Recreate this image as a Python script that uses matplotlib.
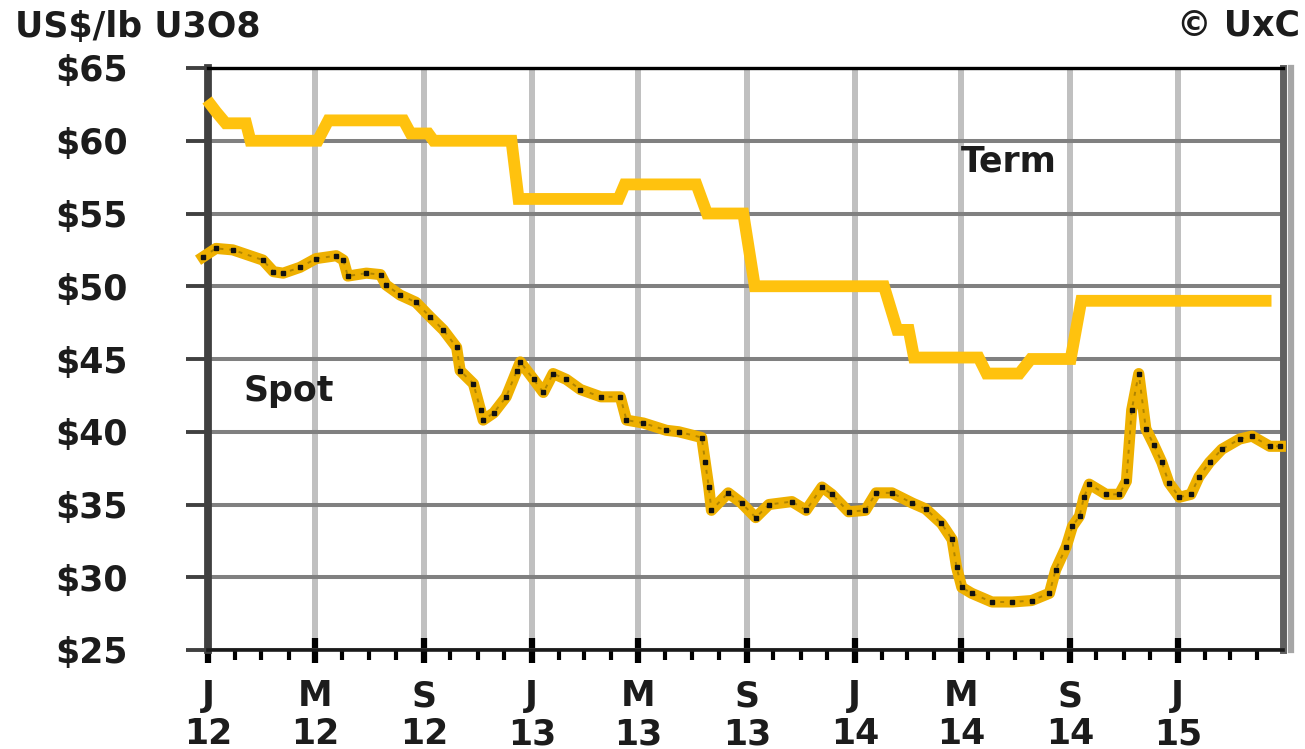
import matplotlib
matplotlib.use("Agg")
import matplotlib.pyplot as plt
import matplotlib.dates as mdates
from matplotlib.ticker import FuncFormatter, MultipleLocator
from matplotlib.lines import Line2D
import pandas as pd

# --- data (US$/lb U3O8) ---
term_dates = ["2011-12-31", "2012-01-10", "2012-01-21", "2012-02-13", "2012-02-18",
              "2012-05-04", "2012-05-16", "2012-08-09", "2012-08-17", "2012-09-06",
              "2012-09-12", "2012-12-09", "2012-12-17", "2013-04-09", "2013-04-16",
              "2013-07-06", "2013-07-18", "2013-08-28", "2013-09-10", "2014-02-03",
              "2014-02-18", "2014-03-03", "2014-03-09", "2014-05-21", "2014-05-30",
              "2014-07-06", "2014-07-19", "2014-09-02", "2014-09-14", "2015-04-17"]
term_prices = [62.8, 62.0, 61.2, 61.2, 60.0,
               60.0, 61.4, 61.4, 60.5, 60.5,
               60.0, 60.0, 56.0, 56.0, 57.0,
               57.0, 55.0, 55.0, 50.0, 50.0,
               47.0, 47.0, 45.1, 45.1, 44.0,
               44.0, 45.0, 45.0, 49.0, 49.0]

spot_dates = ["2011-12-26", "2012-01-10", "2012-01-29", "2012-03-03", "2012-03-15",
              "2012-03-26", "2012-04-14", "2012-05-02", "2012-05-25", "2012-06-02",
              "2012-06-07", "2012-06-28", "2012-07-14", "2012-07-20", "2012-08-05",
              "2012-08-23", "2012-09-08", "2012-09-23", "2012-10-08", "2012-10-12",
              "2012-10-27", "2012-11-04", "2012-11-07", "2012-11-19", "2012-12-03",
              "2012-12-15", "2012-12-19", "2013-01-03", "2013-01-14", "2013-01-25",
              "2013-02-09", "2013-02-25", "2013-03-20", "2013-04-11", "2013-04-18",
              "2013-05-07", "2013-06-02", "2013-06-16", "2013-07-12", "2013-07-16",
              "2013-07-20", "2013-07-23", "2013-08-11", "2013-08-26", "2013-09-11",
              "2013-09-26", "2013-10-22", "2013-11-07", "2013-11-25", "2013-12-06",
              "2013-12-25", "2014-01-13", "2014-01-25", "2014-02-12", "2014-03-07",
              "2014-03-22", "2014-04-09", "2014-04-21", "2014-04-26", "2014-05-02",
              "2014-05-13", "2014-06-05", "2014-06-28", "2014-07-20", "2014-08-09",
              "2014-08-16", "2014-08-28", "2014-09-04", "2014-09-12", "2014-09-17",
              "2014-09-23", "2014-10-12", "2014-10-27", "2014-11-04", "2014-11-10",
              "2014-11-18", "2014-11-26", "2014-12-05", "2014-12-14", "2014-12-22",
              "2015-01-03", "2015-01-16", "2015-01-25", "2015-02-06", "2015-02-20",
              "2015-03-12", "2015-03-26", "2015-04-15", "2015-04-27"]
spot_prices = [52.0, 52.6, 52.5, 51.8, 51.0,
               50.9, 51.3, 51.9, 52.1, 51.8,
               50.7, 50.9, 50.8, 50.1, 49.4,
               48.9, 47.9, 47.0, 45.8, 44.2,
               43.3, 41.5, 40.8, 41.3, 42.4,
               44.2, 44.8, 43.6, 42.7, 44.0,
               43.6, 42.9, 42.4, 42.4, 40.8,
               40.6, 40.1, 40.0, 39.6, 37.9,
               36.2, 34.6, 35.8, 35.1, 34.1,
               35.0, 35.2, 34.6, 36.2, 35.7,
               34.5, 34.6, 35.8, 35.8, 35.1,
               34.7, 33.7, 32.6, 30.7, 29.3,
               28.9, 28.3, 28.3, 28.4, 28.9,
               30.5, 32.1, 33.5, 34.2, 35.5,
               36.4, 35.7, 35.7, 36.6, 41.5,
               44.0, 40.2, 39.1, 37.9, 36.5,
               35.5, 35.7, 36.9, 37.9, 38.8,
               39.5, 39.7, 39.0, 39.0]

y_ticks = [25, 30, 35, 40, 45, 50, 55, 60, 65]

term = pd.Series(term_prices, index=pd.to_datetime(term_dates))
spot = pd.Series(spot_prices, index=pd.to_datetime(spot_dates))

TXT = dict(family="DejaVu Sans", weight="bold", color="#1c1c1c")

fig = plt.figure(figsize=(13.05, 7.49), dpi=100)
ax = fig.add_axes([208 / 1305, 1 - 650 / 749, 1075 / 1305, 582 / 749])

ax.set_ylim(25, 65)
ax.set_xlim(pd.Timestamp("2012-01-01"), pd.Timestamp("2015-04-30"))

# grid
ax.yaxis.set_major_locator(MultipleLocator(5))
ax.xaxis.set_major_locator(mdates.MonthLocator(bymonth=[1, 5, 9]))
ax.xaxis.set_minor_locator(mdates.MonthLocator())
ax.grid(axis="y", color="#808080", lw=2.9, zorder=0)
ax.grid(axis="x", which="major", color="#c0c0c0", lw=4.3, zorder=0)
ax.set_axisbelow(True)

# lines
ax.plot(term.index, term.values, color="#ffc20e", lw=8.5, solid_capstyle="butt",
        solid_joinstyle="miter", zorder=3, clip_on=False)
ax.plot(spot.index, spot.values, color="#eeb000", lw=8, solid_joinstyle="round",
        zorder=3, clip_on=False)
ax.plot(spot.index, spot.values, color="#b08400", lw=1.4, ls=(0, (2, 3)),
        zorder=4, clip_on=False)
ax.plot(spot.index, spot.values, ls="none", marker="s", ms=2.6, color="#111111",
        zorder=5, clip_on=False)

# spines
ax.spines["top"].set_color("black")
ax.spines["top"].set_linewidth(2.4)
ax.spines["left"].set_color("#404040")
ax.spines["left"].set_linewidth(5.6)
ax.spines["right"].set_color("#606060")
ax.spines["right"].set_linewidth(5.0)
ax.spines["bottom"].set_color("#1a1a1a")
ax.spines["bottom"].set_linewidth(2.6)
fig.add_artist(Line2D([1291 / 1305] * 2, [1 - 650 / 749, 1 - 68 / 749],
                      color="#a6a6a6", lw=4.5, transform=fig.transFigure))

# ticks
ax.tick_params(axis="y", direction="out", length=16, width=2.8, color="#404040",
               pad=68, labelsize=25)
ax.tick_params(axis="x", which="major", direction="inout", length=18, width=4.5,
               color="black", pad=12, labelsize=25)
ax.tick_params(axis="x", which="minor", direction="out", length=7, width=3,
               color="black")

ax.set_yticks(y_ticks)
ax.set_yticklabels([f"${v}" for v in y_ticks])
for lab in ax.get_yticklabels():
    lab.set_horizontalalignment("center")
    lab.set_fontweight("bold")
    lab.set_color("#1c1c1c")

ax.xaxis.set_major_formatter(FuncFormatter(
    lambda v, pos: "{}\n{:%y}".format(mdates.num2date(v).strftime("%b")[0], mdates.num2date(v))))
for lab in ax.get_xticklabels():
    lab.set_fontweight("bold")
    lab.set_color("#1c1c1c")
    lab.set_linespacing(1.15)

# annotations
fig.text(15 / 1305, 1 - 27 / 749, "US$/lb U3O8", ha="left", va="center", fontsize=25, **TXT)
fig.text(1300 / 1305, 1 - 25 / 749, "© UxC", ha="right", va="center", fontsize=25, **TXT)
ax.text(pd.Timestamp("2014-05-01"), 58.6, "Term", ha="left", va="center", fontsize=25, **TXT)
ax.text(pd.Timestamp("2012-02-10"), 42.8, "Spot", ha="left", va="center", fontsize=25, **TXT)

fig.savefig("out.png", dpi=100)
